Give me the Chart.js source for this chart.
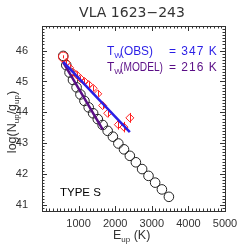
<!DOCTYPE html>
<html>
<head>
<meta charset="utf-8">
<script src="https://cdn.jsdelivr.net/npm/chart.js@4.4.1/dist/chart.umd.min.js"></script>
<style>
  html, body { margin: 0; padding: 0; background: #fff; }
  #wrap { width: 249px; height: 249px; }
</style>
</head>
<body>
<div id="wrap"><canvas id="c" width="249" height="249"></canvas></div>
<script>
// --- data ---
const E_MODEL = [580, 663, 752, 846, 945, 1050, 1160, 1276, 1397, 1524, 1657, 1794, 1937, 2086, 2240, 2400, 2565, 2735, 2910, 3091, 3276, 3467];
const LOG_MODEL = [45.83, 45.53, 45.29, 45.05, 44.81, 44.58, 44.37, 44.16, 43.97, 43.78, 43.59, 43.40, 43.21, 42.99, 42.80, 42.59, 42.38, 42.16, 41.94, 41.72, 41.50, 41.26];
const E_OBS = [580, 663, 752, 846, 945, 1050, 1160, 1276, 1397, 1524, 1657, 1794, 2086, 2240, 2400];
const LOG_OBS = [45.80, 45.62, 45.45, 45.30, 45.22, 45.10, 45.00, 44.90, 44.78, 44.60, 44.22, 43.97, 43.60, 43.52, 43.82];
const ERR_OBS = [0.05, 0.08, 0.08, 0.08, 0.08, 0.08, 0.08, 0.08, 0.09, 0.09, 0.11, 0.13, 0.16, 0.17, 0.16];
const E_FIT_OBS = [580, 2400];
const LOG_FIT_OBS = [45.64, 43.36];
const E_FIT_MODEL = [580, 1657];
const LOG_FIT_MODEL = [45.62, 43.45];
const X_TICKS = [1000, 2000, 3000, 4000, 5000];
const Y_TICKS = [41, 42, 43, 44, 45, 46];

const RED = '#ff2020';
const BLUE = '#2a1ee6';
const PURPLE = '#5a0e86';
const AXIS = '#333333';

function pts(xs, ys) { return xs.map((x, i) => ({ x: x, y: ys[i] })); }

// error bars on the observed points
const errorBars = {
  id: 'errorBars',
  afterDatasetDraw(chart, args) {
    if (args.index !== 1) return;
    const ctx = chart.ctx, xs = chart.scales.x, ys = chart.scales.y;
    ctx.save();
    ctx.strokeStyle = RED;
    ctx.lineWidth = 1;
    E_OBS.forEach((e, i) => {
      const px = Math.round(xs.getPixelForValue(e)) + 0.5;
      ctx.beginPath();
      ctx.moveTo(px, ys.getPixelForValue(LOG_OBS[i] - ERR_OBS[i]));
      ctx.lineTo(px, ys.getPixelForValue(LOG_OBS[i] + ERR_OBS[i]));
      ctx.stroke();
    });
    ctx.restore();
  }
};

// box, inward ticks on all sides, texts with subscripts
const frame = {
  id: 'frame',
  afterDraw(chart) {
    const ctx = chart.ctx, a = chart.chartArea;
    const xs = chart.scales.x, ys = chart.scales.y;
    ctx.save();
    ctx.strokeStyle = AXIS;
    ctx.lineWidth = 1;
    ctx.strokeRect(Math.round(a.left) + 0.5, Math.round(a.top) + 0.5,
      Math.round(a.right - a.left), Math.round(a.bottom - a.top));
    ctx.beginPath();
    for (let v = 0; v <= 5000; v += 100) {
      const len = v % 1000 === 0 ? 5 : 2.5;
      const px = Math.round(xs.getPixelForValue(v)) + 0.5;
      ctx.moveTo(px, a.bottom); ctx.lineTo(px, a.bottom - len);
      ctx.moveTo(px, a.top); ctx.lineTo(px, a.top + len);
    }
    for (let k = 408; k <= 468; k++) {
      const v = k / 10;
      const len = k % 10 === 0 ? 5 : 2.5;
      const py = Math.round(ys.getPixelForValue(v)) + 0.5;
      ctx.moveTo(a.left, py); ctx.lineTo(a.left + len, py);
      ctx.moveTo(a.right, py); ctx.lineTo(a.right - len, py);
    }
    ctx.stroke();

    // title
    ctx.fillStyle = AXIS;
    ctx.textBaseline = 'middle';
    ctx.textAlign = 'center';
    ctx.font = '14px "DejaVu Sans"';
    ctx.fillText('VLA 1623\u2212243', 132, 13);

    // x axis title: E_up (K)
    const big = '12.5px "Liberation Sans"', sub = '8px "Liberation Sans"';
    ctx.textAlign = 'left';
    let x = 113;
    ctx.font = big; ctx.fillText('E', x, 236); x += ctx.measureText('E').width;
    ctx.font = sub; ctx.fillText('up', x, 240); x += ctx.measureText('up').width;
    ctx.font = big; ctx.fillText(' (K)', x, 236);

    // y axis title: log(N_up/g_up)
    ctx.save();
    ctx.translate(13, 122);
    ctx.rotate(-Math.PI / 2);
    const parts = [['log(N', big, 0], ['up', sub, 4], ['/g', big, 0], ['up', sub, 4], [')', big, 0]];
    let w = 0;
    parts.forEach(p => { ctx.font = p[1]; w += ctx.measureText(p[0]).width; });
    x = -w / 2;
    parts.forEach(p => { ctx.font = p[1]; ctx.fillText(p[0], x, p[2]); x += ctx.measureText(p[0]).width; });
    ctx.restore();

    // temperature labels
    const lab = '12px "Liberation Sans"', labSub = '8px "Liberation Sans"';
    function tLine(name, val, y, col) {
      ctx.fillStyle = col;
      let xx = 107;
      ctx.font = lab; ctx.fillText('T', xx, y); xx += ctx.measureText('T').width;
      ctx.font = labSub; ctx.fillText('W', xx, y + 4);
      ctx.font = lab; ctx.fillText(name, 120, y, name.length > 5 ? 43 : 33);
      ctx.letterSpacing = '1px';
      ctx.fillText(val, 169, y);
      ctx.letterSpacing = '0px';
    }
    tLine('(OBS)', '= 347 K', 52, BLUE);
    tLine('(MODEL)', '= 216 K', 68, PURPLE);

    ctx.fillStyle = '#000';
    ctx.font = '11.5px "Liberation Sans"';
    ctx.fillText('TYPE S', 60, 193);
    ctx.restore();
  }
};

new Chart(document.getElementById('c'), {
  type: 'scatter',
  data: {
    datasets: [
      {
        label: 'model',
        data: pts(E_MODEL, LOG_MODEL),
        pointStyle: 'circle',
        pointRadius: 4.8,
        borderColor: '#222',
        backgroundColor: 'rgba(0,0,0,0)',
        borderWidth: 1,
        order: 4
      },
      {
        label: 'obs',
        data: pts(E_OBS, LOG_OBS),
        pointStyle: E_OBS.map((e, i) => i === 0 ? 'circle' : 'rectRot'),
        pointRadius: E_OBS.map((e, i) => i === 0 ? 4.8 : 4),
        borderColor: RED,
        backgroundColor: 'rgba(0,0,0,0)',
        borderWidth: 1,
        order: 3
      },
      {
        type: 'line',
        label: 'fit model',
        data: pts(E_FIT_MODEL, LOG_FIT_MODEL),
        borderColor: PURPLE,
        borderWidth: 2.5,
        pointRadius: 0,
        fill: false,
        order: 2
      },
      {
        type: 'line',
        label: 'fit obs',
        data: pts(E_FIT_OBS, LOG_FIT_OBS),
        borderColor: BLUE,
        borderWidth: 2.5,
        pointRadius: 0,
        fill: false,
        order: 1
      }
    ]
  },
  options: {
    responsive: false,
    animation: false,
    events: [],
    layout: { padding: { top: 26, right: 24, bottom: 0, left: 0 } },
    plugins: { legend: { display: false }, tooltip: { enabled: false } },
    scales: {
      x: {
        type: 'linear',
        min: 0, max: 5000,
        grid: { display: false },
        border: { display: false },
        afterBuildTicks: s => { s.ticks = X_TICKS.map(v => ({ value: v })); },
        afterFit: s => { s.height = 38; },
        ticks: { color: AXIS, padding: -2, maxRotation: 0, callback: v => String(v), font: { family: 'Liberation Sans', size: 11 } }
      },
      y: {
        type: 'linear',
        min: 40.8, max: 46.8,
        grid: { display: false },
        border: { display: false },
        afterBuildTicks: s => { s.ticks = Y_TICKS.map(v => ({ value: v })); },
        afterFit: s => { s.width = 42; },
        ticks: { color: AXIS, padding: 6, callback: v => String(v), font: { family: 'Liberation Sans', size: 11 } }
      }
    }
  },
  plugins: [errorBars, frame]
});
</script>
</body>
</html>
